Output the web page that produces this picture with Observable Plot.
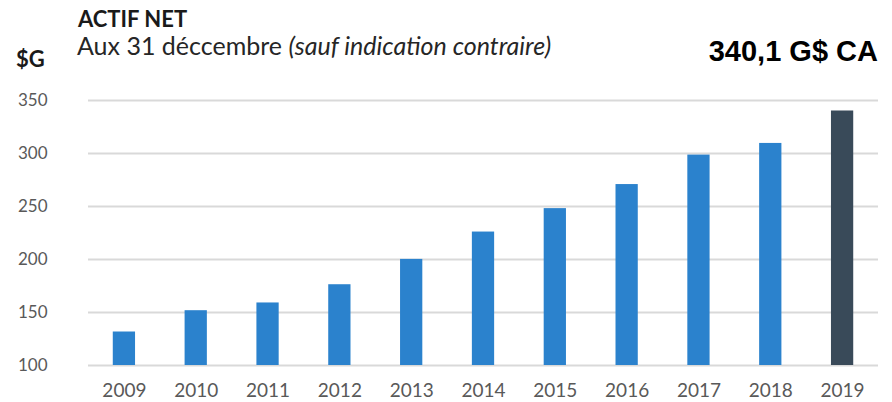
<!DOCTYPE html>
<html><head><meta charset="utf-8">
<script src="https://cdn.jsdelivr.net/npm/d3@7"></script>
<script src="https://cdn.jsdelivr.net/npm/@observablehq/plot@0.6"></script>
<style>
body{margin:0;background:#fff;font-family:Lato,"Open Sans",sans-serif;}
#wrap{position:relative;width:892px;height:402px;}
#head{position:relative;height:90px;}
.t{position:absolute;white-space:nowrap;}
</style></head>
<body>
<div id="wrap">
<div id="head">
<div class="t" style="left:78px;top:5px;font-size:22px;font-weight:bold;color:#1a1a1a;">ACTIF NET</div>
<div class="t" style="left:77px;top:30px;font-size:25px;color:#262626;">Aux 31 déccembre <i>(sauf indication contraire)</i></div>
<div class="t" style="left:16px;top:45px;font-size:22px;font-weight:bold;color:#1a1a1a;">$G</div>
<div class="t" style="right:14px;top:35px;font-size:29px;font-weight:bold;color:#000;font-family:'Liberation Sans',Arial,sans-serif;">340,1 G$ CA</div>
</div>
<div id="chart"></div>
</div>
<script>
const years = ["2009","2010","2011","2012","2013","2014","2015","2016","2017","2018","2019"];
const values = [131.6,151.7,159.0,176.2,200.1,225.9,248.0,270.7,298.5,309.5,340.1];
const yTicks = [100,150,200,250,300,350];
const highlightYear = "2019";

const data = years.map((y,i)=>({year:y, value:values[i], hl: y===highlightYear}));

const chart = Plot.plot({
  width: 892,
  height: 312,
  marginTop: 10,
  marginBottom: 37,
  marginLeft: 88,
  marginRight: 14,
  style: {fontFamily: "Lato, 'Open Sans', sans-serif", fontSize: "17px", color: "#595959", background: "#fff"},
  x: {domain: years, paddingInner: 0.69, paddingOuter: 0.345, round: false, label: null},
  y: {domain: [100,350], ticks: yTicks, label: null},
  marks: [
    Plot.ruleY(yTicks, {stroke: "#d9d9d9", strokeWidth: 2}),
    Plot.rectY(data, {x: "year", y1: 100, y2: "value", fill: d => d.hl ? "#394a59" : "#2b82cd"}),
    Plot.axisX({tickSize: 0, tickPadding: 18, fontSize: 19, fill: "#595959", label: null}),
    Plot.axisY({ticks: yTicks, tickSize: 0, tickPadding: 41, fontSize: 17, fill: "#595959", label: null})
  ]
});
document.getElementById("chart").appendChild(chart);
</script>
</body></html>
